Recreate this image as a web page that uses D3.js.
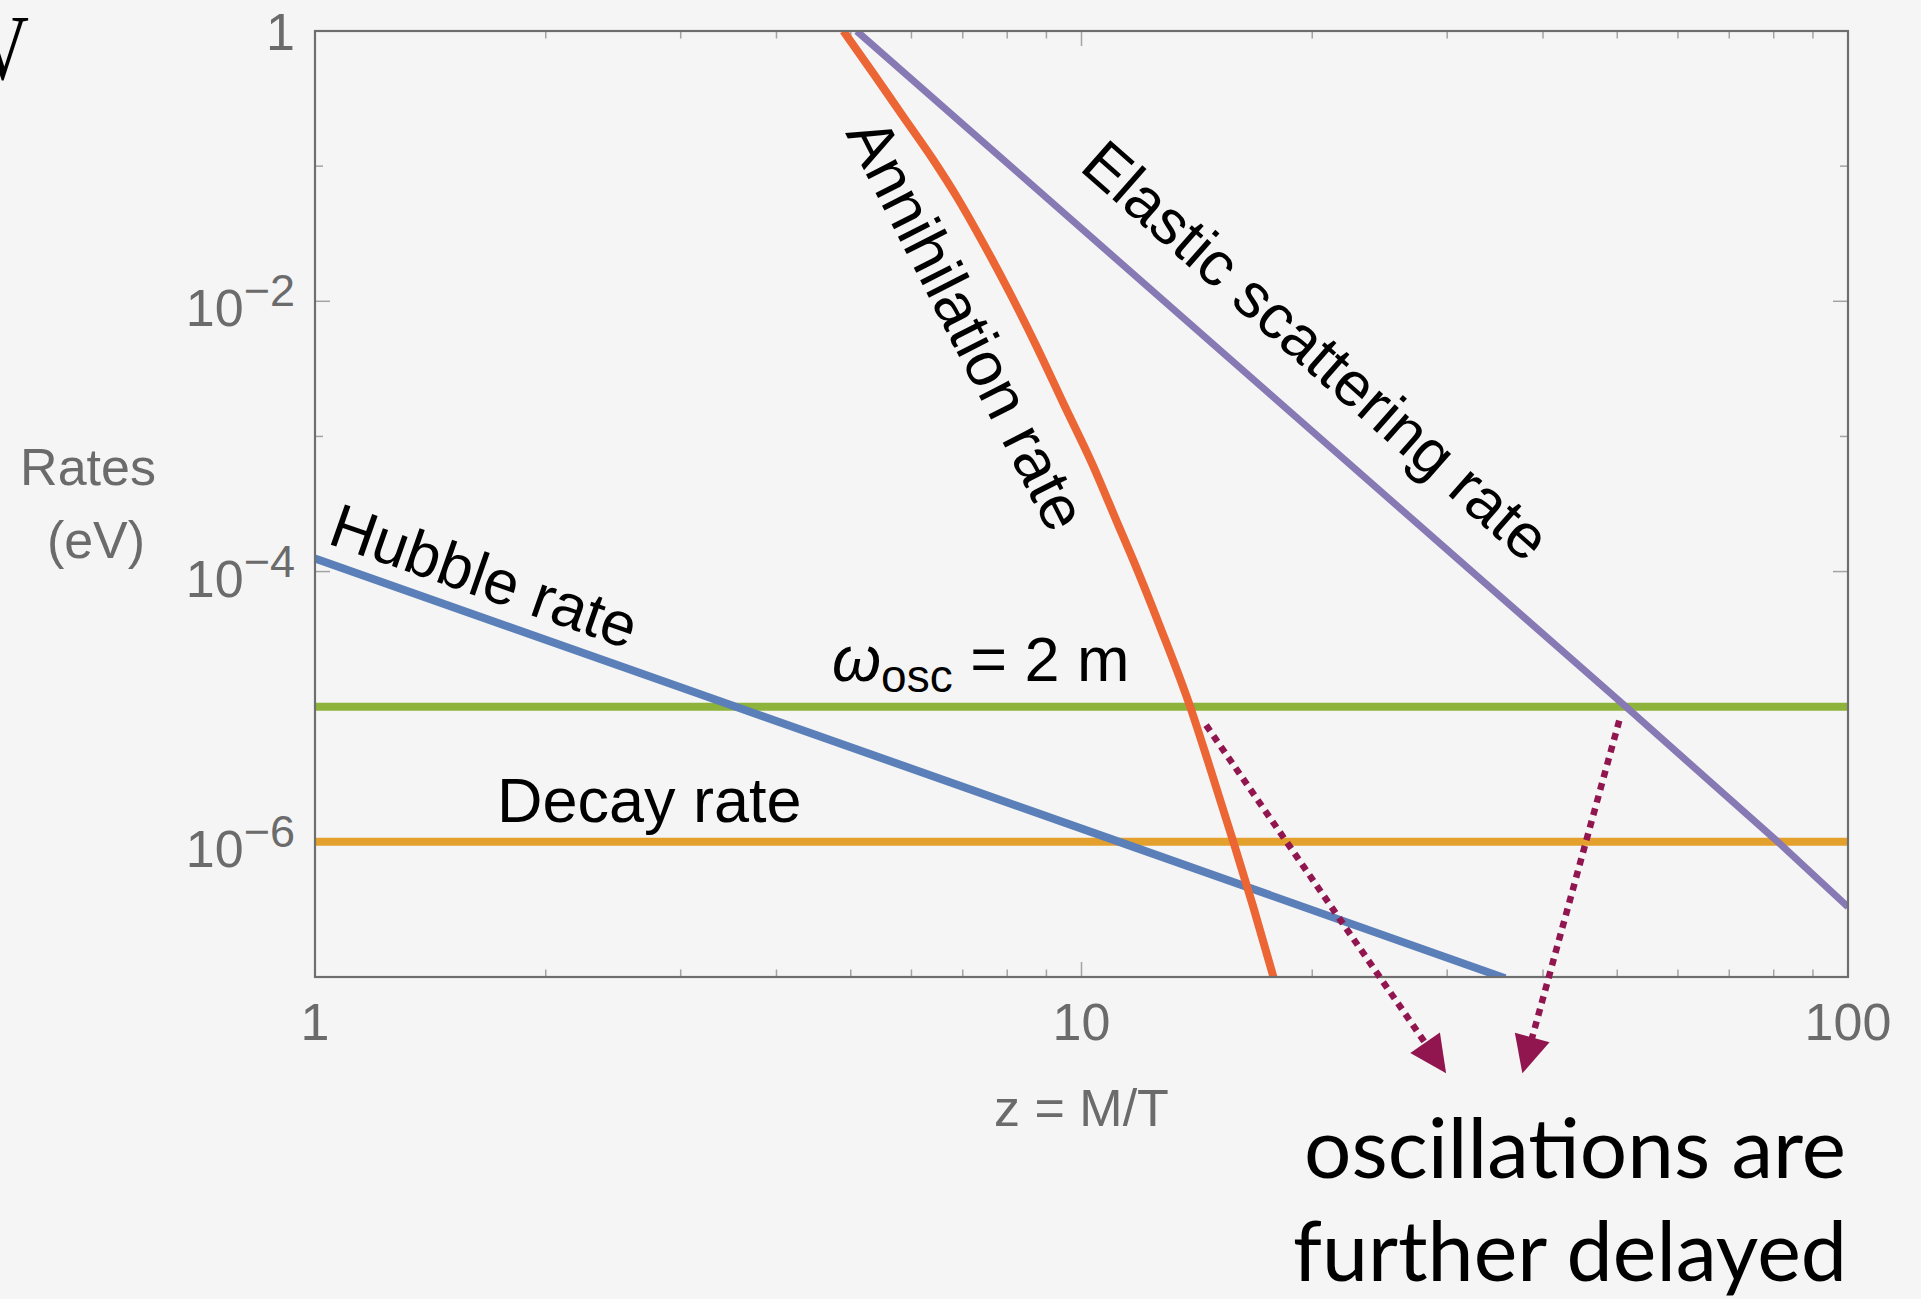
<!DOCTYPE html>
<html><head><meta charset="utf-8">
<script src="https://cdn.jsdelivr.net/npm/d3@7"></script>
<style>body{margin:0;background:#f5f5f5;} svg{display:block}</style>
</head><body>
<svg id="chart" width="1921" height="1299"></svg>
<script>
// ---- data ----
const hubbleZ = [1, 3.54, 11.2, 35.7];
const hubbleRate = [1.25e-4, 1e-5, 1e-6, 9.8e-8];
const elasticZ = [5.09, 51.3, 81, 100];
const elasticRate = [1, 1e-5, 1e-6, 3.3e-7];
const annihZ = [4.89, 5.35, 5.855, 6.408, 6.874, 7.446, 8.067, 8.741, 9.469, 10.32, 11.19, 11.73, 12.66, 13.86, 14.65, 15.78, 16.75, 17.80];
const annihRate = [1, 0.486, 0.232, 0.111, 0.0594, 0.02685, 0.01146, 4.61e-3, 1.76e-3, 6.33e-4, 2.15e-4, 1.15e-4, 3.91e-5, 1.0e-5, 3.81e-6, 1.0e-6, 3.31e-7, 1.0e-7];
const flatZ = [1, 100];
const oscRate = 1e-5;
const decayRate = 1e-6;
const xTickMajor = [1, 10, 100];
const xTickLabels = ["1", "10", "100"];
const xTickMinor = [2,3,4,5,6,7,8,9,20,30,40,50,60,70,80,90];
const yTickValues = [1, 1e-1, 1e-2, 1e-3, 1e-4, 1e-5, 1e-6, 1e-7];
const yLabelValues = [1, 1e-2, 1e-4, 1e-6];
const yLabelBase = ["1", "10", "10", "10"];
const yLabelExp = ["", "\u22122", "\u22124", "\u22126"];
const arrowFromZ = [14.54, 50.3];
const arrowFromRate = [7.3e-6, 7.9e-6];
const arrowToZ = [29.9, 37.6];
const arrowToRate = [1.94e-8, 1.94e-8];

// ---- layout ----
const L = 315, R = 1848, T = 31, B = 977;
const svg = d3.select("#chart");
svg.append("rect").attr("width", 1921).attr("height", 1299).attr("fill", "#f5f5f5");

const x = d3.scaleLog().domain([1, 100]).range([L, R]);
const y = d3.scaleLog().domain([1e-7, 1]).range([B, T]);

const sans = "'Liberation Sans', Arial, Helvetica, sans-serif";
const gray = "#6b6b6b";

svg.append("clipPath").attr("id", "plot").append("rect")
  .attr("x", L).attr("y", T).attr("width", R - L).attr("height", B - T);

// ticks
const tickColor = "#a3a3a3";
const tg = svg.append("g").attr("stroke", tickColor).attr("stroke-width", 1.5);
xTickMajor.concat(xTickMinor).forEach(v => {
  const len = xTickMajor.includes(v) ? 15 : 7.5;
  tg.append("line").attr("x1", x(v)).attr("x2", x(v)).attr("y1", B).attr("y2", B - len);
  tg.append("line").attr("x1", x(v)).attr("x2", x(v)).attr("y1", T).attr("y2", T + len);
});
yTickValues.forEach((v, i) => {
  const len = (i % 2 === 0) ? 15 : 8;
  tg.append("line").attr("x1", L).attr("x2", L + len).attr("y1", y(v)).attr("y2", y(v));
  tg.append("line").attr("x1", R).attr("x2", R - len).attr("y1", y(v)).attr("y2", y(v));
});

// lines
const line = d3.line().x(d => x(d[0])).y(d => y(d[1]));
const pg = svg.append("g").attr("clip-path", "url(#plot)").attr("fill", "none");
pg.append("path").datum(flatZ.map(z => [z, decayRate])).attr("d", line)
  .attr("stroke", "#e3a02c").attr("stroke-width", 8);
pg.append("path").datum(flatZ.map(z => [z, oscRate])).attr("d", line)
  .attr("stroke", "#8db33a").attr("stroke-width", 8);
pg.append("path").datum(hubbleZ.map((z, i) => [z, hubbleRate[i]])).attr("d", line)
  .attr("stroke", "#5b7fb8").attr("stroke-width", 8);
pg.append("path").datum(elasticZ.map((z, i) => [z, elasticRate[i]])).attr("d", line)
  .attr("stroke", "#8779b4").attr("stroke-width", 7);
pg.append("path").datum(annihZ.map((z, i) => [z, annihRate[i]]))
  .attr("d", d3.line().x(d => x(d[0])).y(d => y(d[1])).curve(d3.curveMonotoneX))
  .attr("stroke", "#ec6534").attr("stroke-width", 8);

// frame
svg.append("rect").attr("x", L).attr("y", T).attr("width", R - L).attr("height", B - T)
  .attr("fill", "none").attr("stroke", "#6e6e6e").attr("stroke-width", 2.2);

// tick labels
xTickMajor.forEach((v, i) => {
  svg.append("text").attr("x", x(v)).attr("y", 1040).attr("text-anchor", "middle")
    .attr("font-family", sans).attr("font-size", 52).attr("fill", gray).text(xTickLabels[i]);
});
yLabelValues.forEach((v, i) => {
  const t = svg.append("text").attr("x", 295)
    .attr("y", y(v) + (yLabelExp[i] ? 25 : 19))
    .attr("text-anchor", "end").attr("font-family", sans).attr("font-size", 52).attr("fill", gray);
  t.append("tspan").text(yLabelBase[i]);
  if (yLabelExp[i]) t.append("tspan").attr("dy", -20).attr("font-size", 45).text(yLabelExp[i]);
});

// axis labels
svg.append("text").attr("x", 88).attr("y", 485).attr("text-anchor", "middle")
  .attr("font-family", sans).attr("font-size", 52).attr("fill", gray).text("Rates");
svg.append("text").attr("x", 96).attr("y", 558).attr("text-anchor", "middle")
  .attr("font-family", sans).attr("font-size", 52).attr("fill", gray).text("(eV)");
svg.append("text").attr("x", (L + R) / 2).attr("y", 1126).attr("text-anchor", "middle")
  .attr("font-family", sans).attr("font-size", 52).attr("fill", gray).text("z = M/T");

// curve labels
const labelSize = 63;
function rotLabel(px, py, ang, txt, fs) {
  svg.append("text").attr("transform", `translate(${px},${py}) rotate(${ang})`)
    .attr("font-family", sans).attr("font-size", fs || labelSize).attr("fill", "#000").text(txt);
}
rotLabel(326, 543, 19.4, "Hubble rate", 62);
rotLabel(845, 133, 63, "Annihilation rate");
rotLabel(1078, 169, 41.4, "Elastic scattering rate", 62.5);
svg.append("text").attr("x", 497).attr("y", 822).attr("font-family", sans)
  .attr("font-size", labelSize).attr("fill", "#000").text("Decay rate");
const om = svg.append("text").attr("x", 832).attr("y", 681).attr("font-family", sans)
  .attr("font-size", labelSize).attr("fill", "#000");
om.append("tspan").attr("font-style", "italic").text("\u03c9");
om.append("tspan").attr("font-size", 46).attr("dy", 11).text("osc");
om.append("tspan").attr("dy", -11).text(" = 2 m");

// arrows
const ag = svg.append("g");
arrowFromZ.forEach((z0, i) => {
  const x0 = x(z0), y0 = y(arrowFromRate[i]);
  const x1 = x(arrowToZ[i]), y1 = y(arrowToRate[i]);
  const dx = x1 - x0, dy = y1 - y0, len = Math.hypot(dx, dy);
  const ux = dx / len, uy = dy / len;
  const hl = 37, hw = 18;
  const bx = x1 - ux * hl, by = y1 - uy * hl;
  ag.append("line").attr("x1", x0).attr("y1", y0).attr("x2", bx + ux * 4).attr("y2", by + uy * 4)
    .attr("stroke", "#91164f").attr("stroke-width", 6.5).attr("stroke-dasharray", "7 6");
  ag.append("polygon")
    .attr("points", [[x1, y1], [bx - uy * hw, by + ux * hw], [bx + uy * hw, by - ux * hw]].map(p => p.join(",")).join(" "))
    .attr("fill", "#91164f");
});

// annotation text
const lato = "Lato, 'Open Sans', sans-serif";
function fitText(txt, xr, yb, w) {
  const t = svg.append("text").attr("x", xr).attr("y", yb).attr("text-anchor", "end")
    .attr("font-family", lato).attr("font-size", 80).attr("fill", "#000").text(txt);
  const cw = t.node().getComputedTextLength();
  t.attr("font-size", 80 * w / cw);
}
fitText("oscillations are", 1846, 1178, 542);
fitText("further delayed", 1847, 1281, 554);

// cut-off glyph at top-left (partly outside the picture, as in the reference)
svg.append("text").attr("transform", "translate(-24,79) scale(0.78,1)")
  .attr("font-family", "'Liberation Serif', 'Times New Roman', serif")
  .attr("font-size", 94).attr("fill", "#000").text("V");
</script>
</body></html>
